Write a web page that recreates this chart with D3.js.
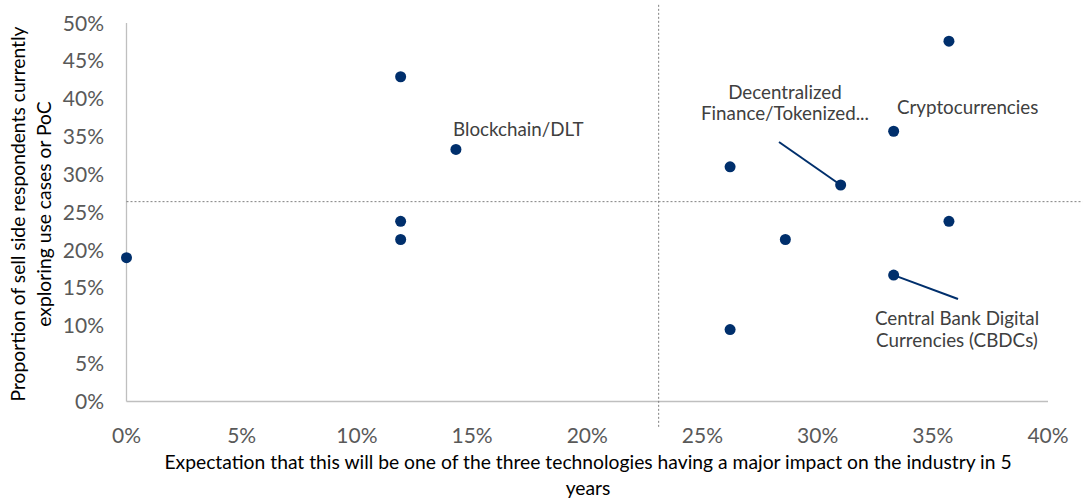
<!DOCTYPE html>
<html>
<head>
<meta charset="utf-8">
<script src="https://cdn.jsdelivr.net/npm/d3@7"></script>
<style>
  body { margin: 0; background: #fff; }
  text { font-family: Lato, "Open Sans", sans-serif; }
</style>
</head>
<body>
<div id="chart"></div>
<script>
// x: expected major impact (%), y: sell side exploring (%)
const xValues = [0, 11.9, 11.9, 11.9, 14.3, 26.2, 26.2, 28.6, 31.0, 33.3, 33.3, 35.7, 35.7];
const yValues = [19.0, 42.9, 23.8, 21.4, 33.3, 31.0, 9.5, 21.4, 28.6, 35.7, 16.7, 47.6, 23.8];
const pointNames = ["", "", "", "", "Blockchain/DLT", "", "", "", "Decentralized Finance/Tokenized...",
    "Cryptocurrencies", "Central Bank Digital Currencies (CBDCs)", "", ""];
const xTicks = [0, 5, 10, 15, 20, 25, 30, 35, 40];
const yTicks = [0, 5, 10, 15, 20, 25, 30, 35, 40, 45, 50];
// averages used as quadrant dividers
const xAvg = 23.1;
const yAvg = 26.4;

const width = 1085;
const height = 504;
const svg = d3.select("#chart").append("svg")
    .attr("width", width)
    .attr("height", height);

const x = d3.scaleLinear().domain([0, 40]).range([126.5, 1048]);
const y = d3.scaleLinear().domain([0, 50]).range([401.5, 23]);

// axis lines
svg.append("line")
    .attr("x1", x(0)).attr("x2", x(0))
    .attr("y1", y(0)).attr("y2", y(50))
    .attr("stroke", "#bfbfbf").attr("stroke-width", 1.3);
svg.append("line")
    .attr("x1", x(0)).attr("x2", x(40))
    .attr("y1", y(0)).attr("y2", y(0))
    .attr("stroke", "#bfbfbf").attr("stroke-width", 1.3);

// tick labels
svg.selectAll(".xtick")
    .data(xTicks)
    .enter()
    .append("text")
    .attr("x", d => x(d))
    .attr("y", 443)
    .attr("text-anchor", "middle")
    .attr("font-size", "21px")
    .attr("fill", "#595959")
    .text(d => d + "%");

svg.selectAll(".ytick")
    .data(yTicks)
    .enter()
    .append("text")
    .attr("x", 104)
    .attr("y", d => y(d) + 7.5)
    .attr("text-anchor", "end")
    .attr("font-size", "21px")
    .attr("fill", "#595959")
    .text(d => d + "%");

// quadrant lines
svg.append("line")
    .attr("x1", x(xAvg)).attr("x2", x(xAvg))
    .attr("y1", y(52.4)).attr("y2", y(-3.5))
    .attr("stroke", "#7f7f7f").attr("stroke-width", 1)
    .attr("stroke-dasharray", "2,2");
svg.append("line")
    .attr("x1", x(0)).attr("x2", x(41.5))
    .attr("y1", y(yAvg)).attr("y2", y(yAvg))
    .attr("stroke", "#7f7f7f").attr("stroke-width", 1)
    .attr("stroke-dasharray", "2,2");

const points = xValues.map((d, i) => ({ x: d, y: yValues[i], name: pointNames[i] }));

// leader lines
svg.append("line")
    .attr("x1", x(points[8].x)).attr("y1", y(points[8].y))
    .attr("x2", 779).attr("y2", 142)
    .attr("stroke", "#002f6c").attr("stroke-width", 2);
svg.append("line")
    .attr("x1", x(points[10].x)).attr("y1", y(points[10].y))
    .attr("x2", 958).attr("y2", 299)
    .attr("stroke", "#002f6c").attr("stroke-width", 2);

// points
svg.selectAll("circle")
    .data(points)
    .enter()
    .append("circle")
    .attr("cx", d => x(d.x))
    .attr("cy", d => y(d.y))
    .attr("r", 5.5)
    .attr("fill", "#002f6c");

// data labels
const labelFont = "18.8px";
svg.append("text")
    .attr("x", 453).attr("y", 136)
    .attr("font-size", labelFont).attr("fill", "#404040")
    .text(points[4].name);

const defi = svg.append("text")
    .attr("text-anchor", "middle")
    .attr("font-size", labelFont).attr("fill", "#404040");
defi.append("tspan").attr("x", 785).attr("y", 99).text("Decentralized");
defi.append("tspan").attr("x", 785).attr("y", 120).text("Finance/Tokenized...");

svg.append("text")
    .attr("x", 897).attr("y", 114)
    .attr("font-size", labelFont).attr("fill", "#404040")
    .text(points[9].name);

const cbdc = svg.append("text")
    .attr("text-anchor", "middle")
    .attr("font-size", labelFont).attr("fill", "#404040");
cbdc.append("tspan").attr("x", 957).attr("y", 325).text("Central Bank Digital");
cbdc.append("tspan").attr("x", 957).attr("y", 347).text("Currencies (CBDCs)");

// axis titles
const xTitle = svg.append("text")
    .attr("text-anchor", "middle")
    .attr("font-size", "19.3px").attr("fill", "#000");
xTitle.append("tspan").attr("x", 588).attr("y", 469)
    .text("Expectation that this will be one of the three technologies having a major impact on the industry in 5");
xTitle.append("tspan").attr("x", 588).attr("y", 495).text("years");

const yTitle = svg.append("text")
    .attr("text-anchor", "middle")
    .attr("transform", "translate(0,214) rotate(-90)")
    .attr("font-size", "19.3px").attr("fill", "#000");
yTitle.append("tspan").attr("x", 0).attr("y", 25).text("Proportion of sell side respondents currently");
yTitle.append("tspan").attr("x", 0).attr("y", 51).text("exploring use cases or PoC");
</script>
</body>
</html>
